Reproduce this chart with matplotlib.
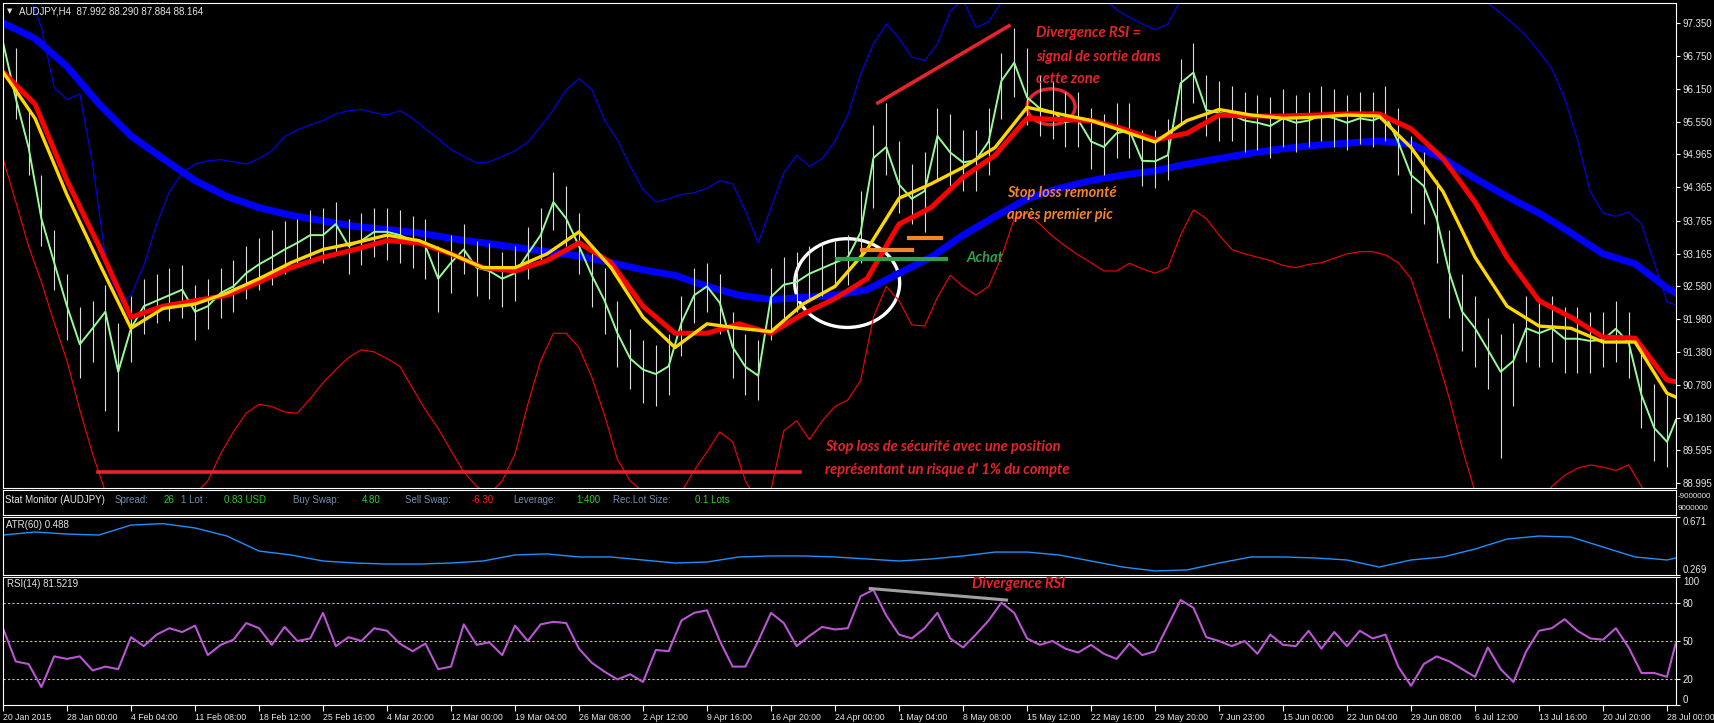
import numpy as np
import matplotlib
matplotlib.use("Agg")
import matplotlib.pyplot as plt
from matplotlib.patches import Ellipse

# AUDJPY H4 - valeurs lues sur la capture
# prix / bandes / RSI : une valeur tous les 1/5 d'intervalle entre deux dates
close = [97.00, 95.98, 95.09, 93.80, 93.00, 92.21, 91.52, 91.81, 92.11, 91.02,
         91.81, 92.21, 92.31, 92.41, 92.51, 92.11, 92.21, 92.45, 92.57, 92.81,
         92.97, 93.10, 93.24, 93.36, 93.50, 93.50, 93.70, 93.30, 93.40, 93.56,
         93.56, 93.50, 93.40, 93.30, 92.71, 93.00, 93.24, 92.91, 92.85, 92.71,
         92.81, 93.16, 93.50, 94.10, 93.80, 93.30, 92.77, 92.31, 91.72, 91.26,
         91.06, 90.98, 91.12, 91.91, 92.41, 92.57, 92.27, 91.47, 91.11, 90.95,
         92.38, 92.60, 92.65, 92.80, 92.90, 93.00, 93.10, 93.55, 94.90, 95.10,
         94.42, 94.16, 94.30, 95.30, 95.00, 94.82, 94.86, 95.20, 96.30, 96.63,
         96.00, 95.80, 95.74, 95.55, 95.59, 95.20, 95.10, 95.35, 95.40, 94.85,
         94.84, 94.95, 96.26, 96.45, 95.77, 95.72, 95.68, 95.58, 95.54, 95.48,
         95.62, 95.54, 95.58, 95.68, 95.62, 95.54, 95.62, 95.58, 95.68, 95.19,
         94.59, 94.39, 93.80, 92.81, 92.11, 91.81, 91.42, 91.02, 91.22, 91.81,
         91.72, 91.81, 91.62, 91.62, 91.58, 91.60, 91.80, 91.55, 90.60, 90.00,
         89.75, 90.15]
high = [97.30, 96.90, 95.80, 94.60, 93.60, 92.80, 92.20, 92.30, 92.60, 91.90,
        92.40, 92.70, 92.80, 92.90, 92.95, 92.60, 92.70, 92.90, 93.05, 93.30,
        93.45, 93.60, 93.75, 93.80, 93.95, 94.00, 94.10, 93.80, 93.90, 94.00,
        94.00, 93.95, 93.85, 93.80, 93.30, 93.50, 93.70, 93.40, 93.35, 93.20,
        93.30, 93.65, 94.00, 94.65, 94.40, 93.90, 93.30, 92.90, 92.30, 91.80,
        91.60, 91.50, 91.70, 92.40, 92.90, 93.00, 92.80, 92.10, 91.70, 91.60,
        92.90, 93.10, 93.20, 93.30, 93.35, 93.40, 93.50, 94.30, 95.50, 95.90,
        95.20, 94.80, 95.00, 95.80, 95.70, 95.40, 95.40, 95.80, 96.80, 97.26,
        96.90, 96.40, 96.30, 96.10, 96.10, 95.80, 95.70, 95.90, 95.90, 95.40,
        95.40, 95.60, 96.70, 96.99, 96.40, 96.30, 96.20, 96.10, 96.05, 96.00,
        96.15, 96.05, 96.10, 96.20, 96.15, 96.05, 96.10, 96.10, 96.20, 95.80,
        95.30, 95.00, 94.50, 93.60, 92.80, 92.40, 92.00, 91.70, 91.90, 92.40,
        92.30, 92.40, 92.20, 92.20, 92.10, 92.10, 92.30, 92.10, 91.40, 90.80,
        90.60, 90.70]
low = [96.45, 95.60, 94.60, 93.30, 92.50, 91.60, 90.90, 91.20, 90.30, 89.95,
       91.20, 91.70, 91.90, 91.95, 92.00, 91.60, 91.80, 92.00, 92.10, 92.35,
       92.50, 92.60, 92.80, 92.95, 93.05, 93.00, 93.20, 92.80, 92.95, 93.10,
       93.05, 93.00, 92.90, 92.70, 92.10, 92.45, 92.80, 92.40, 92.35, 92.20,
       92.30, 92.70, 93.00, 93.60, 93.30, 92.80, 92.20, 91.70, 91.10, 90.70,
       90.45, 90.40, 90.60, 91.30, 91.90, 92.10, 91.70, 90.90, 90.60, 90.50,
       91.60, 92.00, 92.10, 92.30, 92.40, 92.55, 92.60, 93.00, 94.00, 94.60,
       93.90, 93.70, 93.55, 94.50, 94.40, 94.30, 94.30, 94.60, 95.60, 96.00,
       95.50, 95.30, 95.25, 95.10, 95.10, 94.70, 94.60, 94.90, 94.90, 94.40,
       94.35, 94.50, 95.50, 95.90, 95.30, 95.20, 95.20, 95.00, 95.05, 94.90,
       95.10, 95.00, 95.10, 95.20, 95.10, 95.05, 95.15, 95.10, 95.20, 94.60,
       93.90, 93.70, 93.00, 92.00, 91.40, 91.10, 90.70, 89.45, 90.40, 91.20,
       91.10, 91.20, 91.00, 91.00, 91.00, 91.10, 91.20, 90.90, 90.00, 89.40,
       89.30, 89.70]
band_up = [98.60, 98.20, 97.90, 97.27, 96.18, 95.96, 96.06, 94.79, 93.10, 92.25,
           92.41, 92.95, 93.70, 94.29, 94.63, 94.79, 94.85, 94.87, 94.83, 94.79,
           94.89, 95.03, 95.29, 95.41, 95.50, 95.58, 95.70, 95.76, 95.78, 95.72,
           95.68, 95.76, 95.62, 95.43, 95.25, 95.05, 94.93, 94.81, 94.83, 94.93,
           95.03, 95.19, 95.47, 95.78, 96.14, 96.34, 96.14, 95.58, 95.23, 94.75,
           94.33, 94.10, 94.16, 94.24, 94.27, 94.35, 94.49, 94.43, 93.94, 93.36,
           94.00, 94.63, 94.95, 94.75, 94.89, 95.21, 95.68, 96.42, 96.97, 97.33,
           97.07, 96.73, 96.67, 96.97, 97.57, 97.77, 97.27, 97.37, 97.73, 98.00,
           98.10, 98.20, 98.20, 98.10, 98.00, 97.90, 97.81, 97.59, 97.45, 97.33,
           97.23, 97.33, 97.77, 98.00, 98.20, 98.30, 98.40, 98.50, 98.50, 98.50,
           98.50, 98.40, 98.40, 98.30, 98.30, 98.20, 98.20, 98.10, 98.10, 98.00,
           98.00, 97.95, 97.90, 97.85, 97.80, 97.83, 97.71, 97.53, 97.33, 97.11,
           96.83, 96.52, 95.98, 95.23, 94.29, 93.90, 93.84, 93.92, 93.70, 93.00,
           92.29, 92.23]
band_dn = [94.89, 94.10, 93.30, 92.65, 91.91, 91.22, 90.33, 89.53, 88.84, 88.60,
           88.40, 88.30, 88.30, 88.40, 88.60, 88.80, 89.04, 89.53, 89.93, 90.27,
           90.43, 90.39, 90.29, 90.27, 90.53, 90.82, 91.06, 91.28, 91.42, 91.38,
           91.26, 91.12, 90.72, 90.33, 89.99, 89.59, 89.20, 88.94, 88.80, 89.04,
           89.53, 90.43, 91.22, 91.72, 91.72, 91.46, 90.92, 90.23, 89.43, 89.04,
           88.84, 88.64, 88.64, 88.84, 89.23, 89.57, 89.93, 89.75, 89.04, 88.64,
           88.88, 89.95, 90.13, 89.79, 90.13, 90.39, 90.51, 90.86, 92.01, 92.57,
           92.31, 91.87, 91.85, 92.37, 92.77, 92.57, 92.41, 92.57, 93.10, 93.80,
           93.90, 93.70, 93.48, 93.30, 93.14, 93.00, 92.85, 92.85, 92.99, 92.89,
           92.81, 92.91, 93.50, 93.96, 93.80, 93.50, 93.24, 93.16, 93.10, 93.04,
           92.95, 92.91, 92.97, 93.00, 93.08, 93.16, 93.20, 93.20, 93.14, 93.00,
           92.71, 92.01, 91.32, 90.53, 89.63, 88.84, 88.50, 88.30, 88.40, 88.70,
           88.64, 88.94, 89.14, 89.27, 89.33, 89.29, 89.23, 89.33, 88.94, 88.44,
           88.24, 88.20]
rsi = [60, 34, 32, 14, 38, 36, 38, 27, 30, 28,
       53, 46, 55, 60, 57, 62, 39, 47, 51, 64,
       60, 47, 61, 50, 52, 72, 46, 53, 50, 60,
       58, 48, 42, 48, 28, 30, 63, 47, 49, 39,
       62, 50, 63, 65, 64, 44, 33, 26, 20, 24,
       18, 43, 42, 66, 72, 74, 50, 30, 30, 50,
       72, 64, 46, 54, 61, 59, 60, 85, 90, 70,
       55, 52, 60, 72, 52, 45, 55, 66, 80, 72,
       52, 47, 50, 44, 41, 47, 40, 36, 48, 39,
       42, 62, 82, 76, 53, 50, 46, 50, 40, 55,
       47, 46, 58, 44, 57, 46, 58, 52, 55, 30,
       15, 32, 38, 34, 28, 22, 45, 28, 18, 42,
       58, 60, 67, 58, 52, 51, 60, 45, 25, 25,
       22, 49]

# moyennes mobiles et ATR : une valeur par demi-intervalle
ma_yellow = [96.46, 95.62, 94.23, 93.00, 91.81, 92.17, 92.25, 92.45, 92.71, 93.00,
             93.24, 93.36, 93.50, 93.40, 93.16, 92.91, 92.91, 93.16, 93.56, 92.91,
             92.01, 91.46, 91.89, 91.81, 91.75, 92.25, 92.57, 93.24, 94.17, 94.43,
             94.73, 95.09, 95.82, 95.70, 95.58, 95.39, 95.19, 95.58, 95.78, 95.68,
             95.62, 95.64, 95.68, 95.66, 95.09, 94.29, 93.10, 92.21, 91.85, 91.81,
             91.56, 91.56, 90.63, 90.56]
ma_red = [96.46, 95.88, 94.49, 93.30, 92.01, 92.21, 92.31, 92.41, 92.65, 92.91,
          93.10, 93.24, 93.40, 93.36, 93.16, 92.91, 92.85, 93.04, 93.36, 93.00,
          92.21, 91.72, 91.72, 91.89, 91.72, 92.07, 92.35, 92.71, 93.70, 94.00,
          94.55, 94.95, 95.62, 95.60, 95.58, 95.43, 95.23, 95.35, 95.68, 95.66,
          95.66, 95.68, 95.70, 95.70, 95.43, 94.89, 94.10, 93.10, 92.31, 92.01,
          91.65, 91.63, 90.87, 90.84]
ma_blue = [97.35, 97.07, 96.56, 95.88, 95.30, 94.89, 94.49, 94.20, 94.00, 93.86,
           93.76, 93.66, 93.60, 93.54, 93.44, 93.36, 93.28, 93.20, 93.12, 93.00,
           92.87, 92.77, 92.57, 92.41, 92.33, 92.37, 92.41, 92.51, 92.81, 93.10,
           93.50, 93.84, 94.16, 94.35, 94.49, 94.59, 94.67, 94.79, 94.89, 94.99,
           95.07, 95.13, 95.17, 95.21, 95.15, 94.89, 94.53, 94.20, 93.90, 93.54,
           93.16, 92.98, 92.54, 92.45]
atr = [0.546, 0.567, 0.553, 0.546, 0.615, 0.625, 0.595, 0.539, 0.435, 0.408,
       0.366, 0.352, 0.345, 0.345, 0.352, 0.366, 0.408, 0.415, 0.394, 0.394,
       0.373, 0.352, 0.359, 0.394, 0.401, 0.401, 0.394, 0.380, 0.366, 0.380,
       0.401, 0.428, 0.428, 0.408, 0.366, 0.324, 0.297, 0.304, 0.352, 0.394,
       0.394, 0.387, 0.373, 0.324, 0.373, 0.394, 0.449, 0.518, 0.539, 0.532,
       0.463, 0.394, 0.373, 0.387]

date_labels = ["20 Jan 2015", "28 Jan 00:00", "4 Feb 04:00", "11 Feb 08:00", "18 Feb 12:00",
               "25 Feb 16:00", "4 Mar 20:00", "12 Mar 00:00", "19 Mar 04:00", "26 Mar 08:00",
               "2 Apr 12:00", "9 Apr 16:00", "16 Apr 20:00", "24 Apr 00:00", "1 May 04:00",
               "8 May 08:00", "15 May 12:00", "22 May 16:00", "29 May 20:00", "7 Jun 23:00",
               "15 Jun 00:00", "22 Jun 04:00", "29 Jun 08:00", "6 Jul 12:00", "13 Jul 16:00",
               "20 Jul 20:00", "28 Jul 00:00"]
price_ticks = [97.350, 96.750, 96.150, 95.550, 94.965, 94.365, 93.765, 93.165,
               92.580, 91.980, 91.380, 90.780, 90.180, 89.595, 88.995]

x_bar = np.r_[np.arange(131) * 0.2, 26.14]
x_ma = np.r_[np.arange(53) * 0.5, 26.14]

plt.rcParams['font.family'] = ['Liberation Sans', 'DejaVu Sans']
TXT = '#E6E6E6'
RED = '#E8232B'
ORANGE = '#F68428'
GREEN = '#2EA04A'

W, H = 1715, 723
fig = plt.figure(figsize=(W / 100, H / 100), dpi=100, facecolor='black')


def panel(top, bottom):
    a = fig.add_axes([3 / W, 1 - bottom / H, 1673 / W, (bottom - top) / H])
    a.set_facecolor('black')
    for s in a.spines.values():
        s.set_color('white')
        s.set_linewidth(0.8)
    a.set_xlim(0, 26.14)
    a.tick_params(axis='x', bottom=False, labelbottom=False)
    a.yaxis.tick_right()
    a.tick_params(axis='y', colors='white', labelcolor=TXT, labelsize=7,
                  length=3, width=0.8, pad=2)
    return a


ax = panel(3, 488)
ax_stat = panel(490, 515)
ax_atr = panel(517, 575)
ax_rsi = panel(577, 705)

# graphique principal
ax.set_ylim(88.911, 97.713)
ax.set_yticks(price_ticks, [f'{v:.3f}' for v in price_ticks])
ax.plot(x_bar, band_up, color='#0000FF', lw=0.8)
ax.plot(x_bar, band_dn, color='#FF0000', lw=0.8)
ax.plot(x_ma, ma_blue, color='#0000FF', lw=5)
ax.vlines(x_bar, low, high, color='#DCDCDC', lw=0.8)
ax.plot(x_bar, close, color='#98FB98', lw=1.4)
ax.plot(x_ma, ma_red, color='#FF0000', lw=3.6)
ax.plot(x_ma, ma_yellow, color='#FFD700', lw=2.4)

# annotations
ax.plot([13.67, 15.72], [95.90, 97.30], color=RED, lw=2.6)
ax.add_patch(Ellipse((16.375, 95.83), 0.75, 0.65, fill=False, ec=RED, lw=2.4))
ax.add_patch(Ellipse((13.19, 92.63), 1.64, 1.61, fill=False, ec='white', lw=2.4))
ax.plot([13.42, 14.20], [93.23, 93.23], color=ORANGE, lw=3)
ax.plot([14.16, 14.66], [93.45, 93.45], color=ORANGE, lw=3)
ax.plot([13.03, 14.73], [93.07, 93.07], color=GREEN, lw=3)
ax.plot([1.48, 12.45], [89.20, 89.20], color=RED, lw=2.6)

ann = dict(family=['Lato', 'DejaVu Sans'], weight='bold', style='italic',
           fontsize=10.5, ha='left', va='center')
for y, s in zip([97.17, 96.73, 96.33], ['Divergence RSI =', 'signal de sortie dans', 'cette zone']):
    ax.text(16.14, y, s, color=RED, **ann)
for y, s in zip([94.265, 93.865], ['Stop loss remonté', 'après premier pic']):
    ax.text(15.69, y, s, color=ORANGE, **ann)
ax.text(15.06, 93.085, 'Achat', color=GREEN, **ann)
for y, s in zip([89.655, 89.238], ['Stop loss de sécurité avec une position',
                                   "représentant un risque d' 1% du compte"]):
    ax.text(12.85, y, s, color=RED, **ann)

fig.text(7 / W, 1 - 11 / H, '▼', color=TXT, fontsize=5, va='center', family='DejaVu Sans')
fig.text(19 / W, 1 - 11 / H, 'AUDJPY,H4  87.992 88.290 87.884 88.164', color=TXT,
         fontsize=7, va='center')

# Stat Monitor
ax_stat.set_ylim(0, 1)
ax_stat.set_yticks([])
LBL = '#7090B0'
VAL = '#32CD32'
stat = [(5, 'Stat Monitor (AUDJPY)', TXT), (115, 'Spread:', LBL), (164, '26', VAL),
        (181, '1 Lot :', LBL), (224, '0.83 USD', VAL), (293, 'Buy Swap:', LBL),
        (362, '4.80', VAL), (405, 'Sell Swap:', LBL), (472, '-6.30', '#FF2020'),
        (513, 'Leverage:', LBL), (576, '1:400', VAL), (613, 'Rec.Lot Size:', LBL),
        (695, '0.1 Lots', VAL)]
for xp, s, c in stat:
    fig.text(xp / W, 1 - 500 / H, s, color=c, fontsize=7, va='center')
fig.text(1678 / W, 1 - 497 / H, '-9000000', color=TXT, fontsize=5.8, va='center')
fig.text(1678 / W, 1 - 508 / H, '9000000', color=TXT, fontsize=5.8, va='center')

# ATR
ax_atr.set_ylim(0.269, 0.671)
ax_atr.plot(x_ma, atr, color='#1E90FF', lw=1)
ax_atr.set_yticks([0.269, 0.671], ['0.269', '0.671'])
ax_atr.get_yticklabels()[0].set_va('bottom')
ax_atr.get_yticklabels()[1].set_va('top')
fig.text(6 / W, 1 - 525 / H, 'ATR(60) 0.488', color=TXT, fontsize=7, va='center')

# RSI
ax_rsi.set_ylim(0, 100)
for lvl in (80, 50, 20):
    ax_rsi.axhline(lvl, color='#C8C88C', lw=0.8, ls=(0, (2, 2)))
ax_rsi.plot(x_bar, rsi, color='#BA55D3', lw=1.5)
ax_rsi.plot([13.55, 15.68], [91, 82], color='#A0A0A0', lw=2.2)
ax_rsi.text(15.14, 94.5, 'Divergence RSI', color=RED, **ann)
ax_rsi.set_yticks([0, 20, 50, 80, 100], ['0', '20', '50', '80', '100'])
ax_rsi.get_yticklabels()[0].set_va('bottom')
ax_rsi.get_yticklabels()[-1].set_va('top')
fig.text(7 / W, 1 - 584 / H, 'RSI(14) 81.5219', color=TXT, fontsize=7, va='center')

ax_rsi.set_xticks(range(27), date_labels, ha='left')
ax_rsi.tick_params(axis='x', bottom=True, labelbottom=True, colors='white',
                   labelcolor=TXT, labelsize=6.3, length=4, width=0.8, pad=2)

fig.savefig('out.png', dpi=100, facecolor='black')
